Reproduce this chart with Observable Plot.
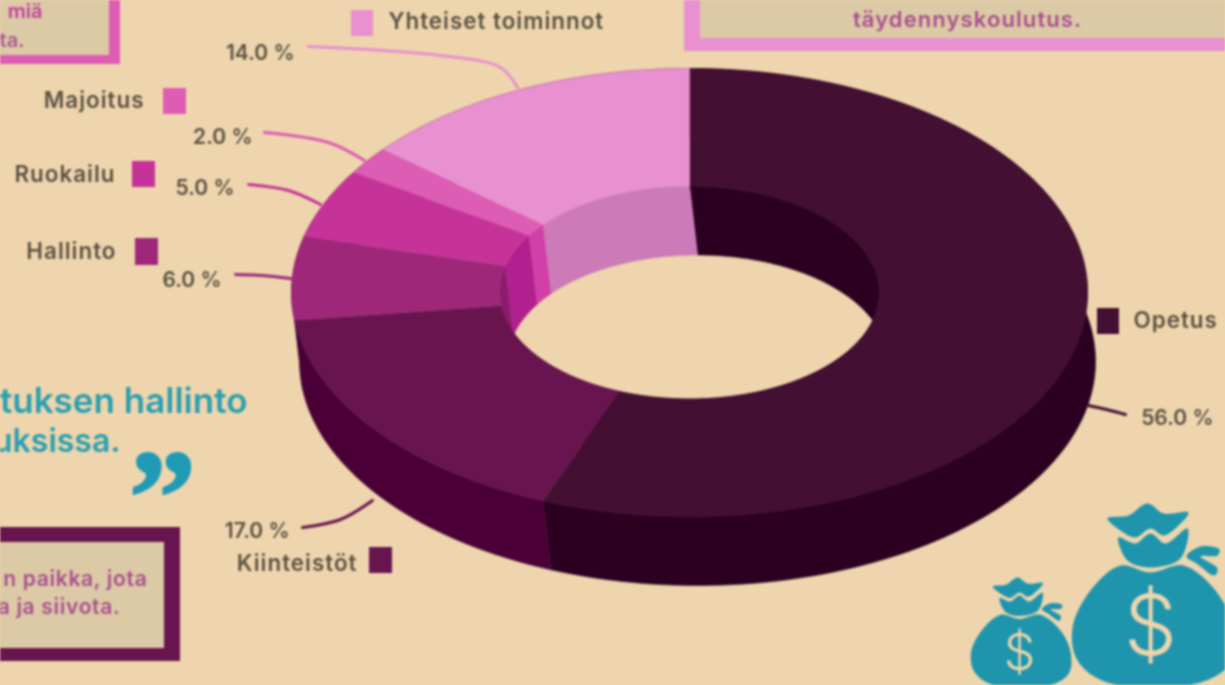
<!DOCTYPE html>
<html><head><meta charset="utf-8">
<script src="https://cdn.jsdelivr.net/npm/d3@7"></script>
<script src="https://cdn.jsdelivr.net/npm/@observablehq/plot@0.6"></script>
<style>html,body{margin:0;padding:0;background:#eed5ad;overflow:hidden}svg{display:block;filter:blur(.8px)}
.spaced text{letter-spacing:1px}.boxed text{letter-spacing:.7px}.wide text{letter-spacing:1.1px}</style>
</head><body><div id="chart"></div>
<script>
// Data
const categories = ["Opetus","Kiinteistöt","Hallinto","Ruokailu","Majoitus","Yhteiset toiminnot"];
const shares = [56,17,6,5,2,14];
const topColors = ["#430f33","#68154f","#9e2779","#c63398","#dd5cb4","#e890d0"];
const outerWallColors = ["#2b0020","#4a0036","#4a0036","#4a0036","#4a0036","#4a0036"];
const innerWallColors = ["#2b0020","#4a0036","#8f1b70","#b0208e","#d040a8","#cc7ab8"];

// Layout of the drawing, in page units
const W = 1225, H = 685;
const center = {x:689, y:292}, outerR = {x:398, y:224}, innerR = {x:190, y:106.5}, drop = {x:8, y:69};
const bg = "#eed5ad", inkText = "#5a5244", boxFill = "#dcc9a5";

const cum = d3.cumsum(shares);
const slices = categories.map((name,i)=>({name, a0:(cum[i]-shares[i])*3.6, a1:cum[i]*3.6, top:topColors[i], wallO:outerWallColors[i], wallI:innerWallColors[i]}));
const pt = (r,deg,dx=0,dy=0)=>{const t=deg*Math.PI/180;return {x:center.x+dx+r.x*Math.sin(t), y:center.y+dy-r.y*Math.cos(t)};};
const arc = (r,a0,a1,dx,dy)=>{const n=Math.max(2,Math.ceil((a1-a0)/1.5));return d3.range(n+1).map(k=>pt(r,a0+(a1-a0)*k/n,dx,dy));};
const ring = (s)=>[...arc(outerR,s.a0,s.a1),...arc(innerR,s.a0,s.a1).reverse()].map(p=>({...p,key:s.name,color:s.top}));
const strip = (r,s,tag,color)=>[...arc(r,s.a0,s.a1),...arc(r,s.a0,s.a1,drop.x,drop.y).reverse()].map(p=>({...p,key:tag+s.name,color}));

const wallPts = slices.flatMap(s=>strip(outerR,s,"o",s.wallO));
const innerPts = slices.flatMap(s=>strip(innerR,s,"i",s.wallI));
const topPts = slices.flatMap(ring);

// Labels placed around the ring
const labelRows = [
 {i:0,nameX:1133,nameY:320,nameAnchor:"start",sw:[1097,1119,308,334],pctX:1213,pctY:418,lead:[[1088,405],[1106,409],[1125,414]]},
 {i:1,nameX:357,nameY:563,nameAnchor:"end",sw:[369,392,547,573],pctX:289,pctY:531,lead:[[302,527],[340,519],[372,500]]},
 {i:2,nameX:116,nameY:251,nameAnchor:"end",sw:[135,158,238,265],pctX:221,pctY:280,lead:[[235,274],[262,275],[290,278]]},
 {i:3,nameX:115,nameY:174,nameAnchor:"end",sw:[132,155,161,187],pctX:234,pctY:188,lead:[[248,184],[288,190],[320,204]]},
 {i:4,nameX:144,nameY:100,nameAnchor:"end",sw:[163,186,88,114],pctX:252,pctY:137,lead:[[264,132],[328,142],[364,160]]},
 {i:5,nameX:388,nameY:21,nameAnchor:"start",sw:[351,373,10,36],pctX:294,pctY:53,lead:[[308,46],[440,55],[500,67],[517,87]]}
].map(d=>({...d,name:categories[d.i],pct:shares[d.i].toFixed(1)+" %",top:topColors[d.i]}));

const leaders = labelRows.flatMap(d=>d.lead.map(([x,y])=>({x,y,key:d.name,color:d.top})));

// Fragments of the surrounding infographic
const frames = [
 {x1:-20,x2:120,y1:-20,y2:64,color:"#dd5cb4"},{x1:-20,x2:109,y1:-20,y2:55,color:boxFill},
 {x1:684,x2:1245,y1:-20,y2:51,color:"#e890d0"},{x1:700,x2:1245,y1:-20,y2:38,color:boxFill},
 {x1:-20,x2:180,y1:527,y2:661,color:"#68154f"},{x1:-20,x2:164,y1:542,y2:648,color:boxFill}
];
const cornerTexts = [{t:"miä",x:42,y:11,c:"#c03f9f"},{t:"ta.",x:24,y:40,c:"#a85a92"}];
const boxTextsEnd = [{t:"n paikka, jota",x:147,y:579,c:"#a8508f"},{t:"a ja siivota.",x:120,y:607,c:"#a8508f"}];
const boxTextsMid = [{t:"täydennyskoulutus.",x:967,y:19,c:"#a8508f"}];
const quoteTexts = [{t:"tuksen hallinto",x:247,y:401,s:35},{t:"uksissa.",x:120,y:441,s:32}];

// Money bag outlines, big bag in page units
const bagBody = [[1120,565],[1150,572],[1183,565],[1215,590],[1232,625],[1230,662],[1200,682],[1107,682],[1077,660],[1072,627],[1090,590]];
const bagCollar = [[1118,537],[1135,543],[1150,533],[1165,543],[1187,528],[1180,558],[1150,567],[1127,560]];
const bagCrown = [[1107,518],[1128,515],[1147,503],[1163,513],[1188,512],[1176,527],[1163,535],[1150,528],[1135,537],[1120,530]];
const bagTie = [[1186,556],[1200,546],[1219,549],[1217,555],[1200,556],[1217,568],[1214,575],[1196,563]];
const bigBag = {name:"big",sx:1,sy:1,ox:1150,oy:503,tx:1150,ty:503};
const smallBag = {name:"small",sx:.62,sy:.6,ox:1150,oy:503,tx:1019,ty:577};
const shapes = {body:bagBody,collar:bagCollar,crown:bagCrown,tie:bagTie};
const bagPts = [bigBag,smallBag].flatMap(b=>Object.entries(shapes).flatMap(([k,pts])=>pts.map(([x,y])=>({x:b.tx+(x-b.ox)*b.sx,y:b.ty+(y-b.oy)*b.sy,key:b.name+k}))));
const dollars = [{x:1150,y:628,s:84},{x:1019,y:653,s:50}];

const font = "Inter, 'Noto Sans', sans-serif";
const polygon = (data)=>Plot.line(data,{x:"x",y:"y",z:"key",fill:"color",stroke:"color",strokeWidth:.6});
const labelStyle = {fill:inkText,fontWeight:600};

const chart = Plot.plot({
  width:W, height:H, margin:0,
  x:{domain:[0,W],range:[0,W],axis:null},
  y:{domain:[0,H],range:[0,H],axis:null},
  color:{type:"identity"},
  style:{background:bg,fontFamily:font},
  marks:[
    Plot.rect(frames,{x1:"x1",x2:"x2",y1:"y1",y2:"y2",fill:"color"}),
    Plot.text(cornerTexts,{x:"x",y:"y",text:"t",textAnchor:"end",fill:"c",fontSize:20,fontWeight:600}),
    Plot.text(boxTextsEnd,{x:"x",y:"y",text:"t",textAnchor:"end",fill:"c",fontSize:21,fontWeight:600,className:"boxed"}),
    Plot.text(boxTextsMid,{x:"x",y:"y",text:"t",textAnchor:"middle",fill:"c",fontSize:22,fontWeight:600,className:"wide"}),
    Plot.text(quoteTexts,{x:"x",y:"y",text:"t",textAnchor:"end",fill:"#2b9fb0",fontSize:"s",fontWeight:600}),
    Plot.text(["”"],{x:[162],y:[499],text:d=>d,fill:"#1f9bb5",stroke:"#1f9bb5",strokeWidth:2,fontSize:135,fontWeight:700,fontFamily:"'Liberation Serif', serif"}),
    polygon(wallPts), polygon(innerPts), polygon(topPts),
    Plot.line(leaders,{x:"x",y:"y",z:"key",stroke:"color",strokeWidth:3,curve:"catmull-rom"}),
    Plot.rect(labelRows,{x1:d=>d.sw[0],x2:d=>d.sw[1],y1:d=>d.sw[2],y2:d=>d.sw[3],fill:"top"}),
    Plot.text(labelRows,{filter:d=>d.nameAnchor==="end",x:"nameX",y:"nameY",text:"name",textAnchor:"end",fontSize:22.4,className:"spaced",...labelStyle}),
    Plot.text(labelRows,{filter:d=>d.nameAnchor==="start",x:"nameX",y:"nameY",text:"name",textAnchor:"start",fontSize:22.4,className:"spaced",...labelStyle}),
    Plot.text(labelRows,{x:"pctX",y:"pctY",text:"pct",textAnchor:"end",fontSize:21,...labelStyle}),
    Plot.line(bagPts,{x:"x",y:"y",z:"key",fill:"#1f95ad",stroke:"none",curve:"catmull-rom-closed"}),
    Plot.text(dollars,{x:"x",y:"y",text:()=>"$",fontSize:"s",fill:bg,fontWeight:300})
  ]
});
document.getElementById("chart").append(chart);
</script></body></html>
